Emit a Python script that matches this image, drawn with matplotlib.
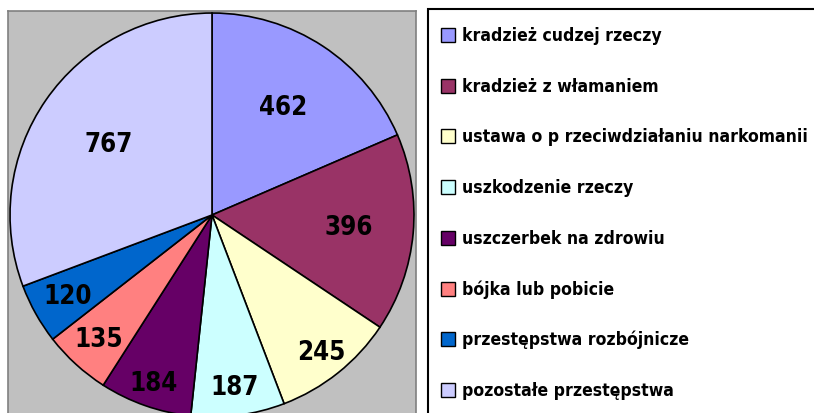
import matplotlib
matplotlib.use('Agg')
import numpy as np
import matplotlib.pyplot as plt
from matplotlib.patches import Rectangle

plt.rcParams['font.family'] = ['DejaVu Sans']

categories = ['kradzież cudzej rzeczy', 'kradzież z włamaniem',
              'ustawa o p rzeciwdziałaniu narkomanii', 'uszkodzenie rzeczy',
              'uszczerbek na zdrowiu', 'bójka lub pobicie',
              'przestępstwa rozbójnicze', 'pozostałe przestępstwa']
values = [462, 396, 245, 187, 184, 135, 120, 767]
colors = ['#9999FF', '#993366', '#FFFFCC', '#CCFFFF',
          '#660066', '#FF8080', '#0066CC', '#CCCCFF']
# radial position of each value label (fraction of radius)
label_r = [0.64, 0.68, 0.87, 0.86, 0.88, 0.83, 0.82, 0.62]

W, H = 814, 414
fig = plt.figure(figsize=(W / 100, H / 100), dpi=100)

# plot area (grey), pie centred
ax = fig.add_axes([8 / W, -6 / H, 408 / W, 408 / H])
wedges, _ = ax.pie(values, colors=colors, startangle=90, counterclock=False,
                   wedgeprops=dict(edgecolor='black', linewidth=1.2), radius=1.0)
ax.set_frame_on(True)
ax.set_facecolor('#C0C0C0')
for s in ax.spines.values():
    s.set_color('#808080')
    s.set_linewidth(1.2)
ax.set_xticks([])
ax.set_yticks([])
ax.set_xlim(-1.01, 1.01)
ax.set_ylim(-1.01, 1.01)
ax.set_aspect('equal')

for w, v, r in zip(wedges, values, label_r):
    ang = np.deg2rad((w.theta1 + w.theta2) / 2)
    ax.text(r * np.cos(ang), r * np.sin(ang), str(v), ha='center', va='center',
            fontsize=18.5, fontweight='bold', fontstretch='condensed', color='black')

# legend box
fig.patches.append(Rectangle((428 / W, -0.1), 0.6, 1 - 10 / H + 0.1,
                             transform=fig.transFigure, facecolor='white',
                             edgecolor='black', linewidth=1.5))
row0, step = 36, 50.7
for i, (lab, c) in enumerate(zip(categories, colors)):
    yc = 1 - (row0 + i * step) / H
    fig.patches.append(Rectangle((441 / W, yc - 7 / H), 14 / W, 14 / H,
                                 transform=fig.transFigure, facecolor=c,
                                 edgecolor='black', linewidth=1))
    fig.text(462 / W, yc, lab, ha='left', va='center', fontsize=12.6,
             fontweight='bold', fontstretch='condensed', color='black')

fig.savefig('out.png', dpi=100)
